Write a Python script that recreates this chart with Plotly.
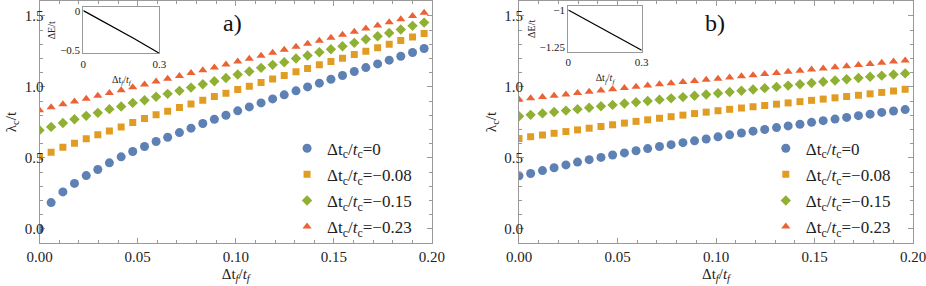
import plotly.graph_objects as go

# ---------------- data ----------------
x_vals = [0, 0.0059, 0.0119, 0.0178, 0.0238, 0.0297, 0.0356, 0.0416, 0.0475, 0.0535,
          0.0594, 0.0653, 0.0713, 0.0772, 0.0832, 0.0891, 0.0950, 0.1010, 0.1069, 0.1129,
          0.1188, 0.1247, 0.1307, 0.1366, 0.1426, 0.1485, 0.1544, 0.1604, 0.1663, 0.1723,
          0.1782, 0.1841, 0.1901, 0.1960]

labels = ["Δt<sub>c</sub>/<i>t</i><sub>c</sub>=0",
          "Δt<sub>c</sub>/<i>t</i><sub>c</sub>=−0.08",
          "Δt<sub>c</sub>/<i>t</i><sub>c</sub>=−0.15",
          "Δt<sub>c</sub>/<i>t</i><sub>c</sub>=−0.23"]

a_s0 = [0.0, 0.185, 0.26, 0.32, 0.375, 0.418, 0.465, 0.507, 0.545, 0.58,
        0.615, 0.645, 0.678, 0.709, 0.742, 0.772, 0.80, 0.831, 0.859, 0.887,
        0.915, 0.944, 0.972, 1.0, 1.026, 1.054, 1.08, 1.108, 1.136, 1.162,
        1.188, 1.216, 1.242, 1.27]
a_s1 = [0.51, 0.54, 0.575, 0.603, 0.634, 0.662, 0.69, 0.718, 0.749, 0.777,
        0.803, 0.829, 0.854, 0.88, 0.906, 0.932, 0.955, 0.981, 1.005, 1.03,
        1.056, 1.08, 1.106, 1.129, 1.155, 1.178, 1.202, 1.228, 1.251, 1.275,
        1.3, 1.326, 1.352, 1.376]
a_s2 = [0.695, 0.718, 0.746, 0.772, 0.796, 0.817, 0.843, 0.862, 0.887, 0.906,
        0.93, 0.951, 0.972, 0.995, 1.019, 1.04, 1.063, 1.087, 1.108, 1.134,
        1.155, 1.174, 1.2, 1.221, 1.244, 1.265, 1.286, 1.31, 1.336, 1.357,
        1.38, 1.404, 1.43, 1.453]
a_s3 = [0.836, 0.857, 0.877, 0.897, 0.917, 0.937, 0.957, 0.977, 0.997, 1.017,
        1.037, 1.057, 1.077, 1.097, 1.117, 1.137, 1.157, 1.178, 1.199, 1.22,
        1.241, 1.262, 1.283, 1.304, 1.325, 1.346, 1.367, 1.389, 1.411, 1.433,
        1.455, 1.477, 1.5, 1.523]

b_s0 = [0.373, 0.39, 0.41, 0.43, 0.45, 0.47, 0.487, 0.503, 0.52, 0.535,
        0.55, 0.565, 0.58, 0.593, 0.607, 0.62, 0.633, 0.648, 0.662, 0.675,
        0.688, 0.70, 0.713, 0.725, 0.737, 0.75, 0.762, 0.773, 0.785, 0.797,
        0.808, 0.82, 0.83, 0.84]
b_s1 = [0.636, 0.649, 0.661, 0.673, 0.685, 0.697, 0.709, 0.721, 0.733, 0.745,
        0.757, 0.768, 0.779, 0.790, 0.801, 0.812, 0.822, 0.832, 0.842, 0.851,
        0.860, 0.869, 0.878, 0.887, 0.896, 0.905, 0.914, 0.923, 0.932, 0.941,
        0.951, 0.961, 0.971, 0.983]
b_s2 = [0.793, 0.803, 0.813, 0.823, 0.833, 0.843, 0.853, 0.863, 0.873, 0.883,
        0.892, 0.901, 0.910, 0.919, 0.928, 0.937, 0.946, 0.955, 0.964, 0.973,
        0.982, 0.991, 1.000, 1.009, 1.018, 1.027, 1.036, 1.045, 1.054, 1.063,
        1.071, 1.079, 1.087, 1.095]
b_s3 = [0.911, 0.920, 0.929, 0.938, 0.947, 0.956, 0.965, 0.974, 0.983, 0.992,
        1.001, 1.010, 1.018, 1.026, 1.034, 1.042, 1.050, 1.058, 1.066, 1.074,
        1.082, 1.090, 1.098, 1.106, 1.114, 1.122, 1.130, 1.138, 1.146, 1.154,
        1.162, 1.170, 1.178, 1.186]

inset_x = [0, 0.1, 0.2, 0.3]
inset_a_y = [0, -0.172, -0.35, -0.535]
inset_b_y = [-1.0, -1.09, -1.18, -1.27]

# ---------------- style ----------------
colors = ["#5E81B5", "#E19C24", "#8FB032", "#EB6235"]
symbols = ["circle", "square", "diamond", "triangle-up"]
sizes = [9, 7, 8, 8]
FONT = "Liberation Serif, Times New Roman, DejaVu Serif, serif"
FRAME = "#999999"
TXT = "#222222"

fig = go.Figure()

series_a = [a_s0, a_s1, a_s2, a_s3]
series_b = [b_s0, b_s1, b_s2, b_s3]
for i in range(4):
    fig.add_trace(go.Scatter(x=x_vals, y=series_a[i], mode="markers", name=labels[i],
                             marker=dict(color=colors[i], symbol=symbols[i], size=sizes[i]),
                             xaxis="x", yaxis="y", legend="legend", legendgroup="a%d" % i))
for i in range(4):
    fig.add_trace(go.Scatter(x=x_vals, y=series_b[i], mode="markers", name=labels[i],
                             marker=dict(color=colors[i], symbol=symbols[i], size=sizes[i]),
                             xaxis="x2", yaxis="y2", legend="legend2", legendgroup="b%d" % i))

fig.add_trace(go.Scatter(x=inset_x, y=inset_a_y, mode="lines", line=dict(color="black", width=1.3),
                         xaxis="x3", yaxis="y3", showlegend=False))
fig.add_trace(go.Scatter(x=inset_x, y=inset_b_y, mode="lines", line=dict(color="black", width=1.3),
                         xaxis="x4", yaxis="y4", showlegend=False))

def main_x(dom, anchor):
    return dict(domain=dom, anchor=anchor, range=[0, 0.2], tickvals=[0, 0.05, 0.1, 0.15, 0.2],
                tickformat=".2f", ticks="inside", ticklen=5, tickcolor=FRAME, showline=True,
                linecolor=FRAME, linewidth=1, mirror="allticks", showgrid=False, zeroline=False,
                automargin=False, ticklabeloverflow="allow",
                minor=dict(dtick=0.01, ticks="inside", ticklen=3, tickcolor=FRAME, showgrid=False),
                tickfont=dict(family=FONT, size=15, color=TXT),
                title=dict(text="Δt<sub><i>f</i></sub>/<i>t</i><sub><i>f</i></sub>",
                           font=dict(family=FONT, size=15, color=TXT), standoff=4))

def main_y(dom, anchor):
    return dict(domain=dom, anchor=anchor, range=[-0.1, 1.605], tickvals=[0, 0.5, 1.0, 1.5],
                tickformat=".1f", ticks="inside", ticklen=5, tickcolor=FRAME, showline=True,
                linecolor=FRAME, linewidth=1, mirror="allticks", showgrid=False, zeroline=False,
                automargin=False,
                minor=dict(dtick=0.1, ticks="inside", ticklen=3, tickcolor=FRAME, showgrid=False),
                tickfont=dict(family=FONT, size=15, color=TXT),
                title=dict(text="λ<sub>c</sub>/t", font=dict(family=FONT, size=15, color=TXT),
                           standoff=4))

def inset_x_ax(dom, anchor):
    return dict(domain=dom, anchor=anchor, range=[0, 0.3], tickvals=[0, 0.3], ticktext=["0", "0.3"],
                ticks="", showline=True, linecolor=FRAME, linewidth=1, mirror=True,
                showgrid=False, zeroline=False, automargin=False, ticklabeloverflow="allow",
                tickfont=dict(family=FONT, size=11, color=TXT),
                title=dict(text="Δt<sub><i>f</i></sub>/<i>t</i><sub><i>f</i></sub>",
                           font=dict(family=FONT, size=10, color=TXT), standoff=7))

def inset_y_ax(dom, anchor, rng, tv, tt):
    return dict(domain=dom, anchor=anchor, range=rng, tickvals=tv, ticktext=tt, ticks="",
                showline=True, linecolor=FRAME, linewidth=1, mirror=True, showgrid=False,
                zeroline=False, automargin=False, tickfont=dict(family=FONT, size=11, color=TXT),
                title=dict(text="ΔE/t", font=dict(family=FONT, size=10, color=TXT), standoff=2))

legend_common = dict(font=dict(family=FONT, size=17, color=TXT), bgcolor="rgba(0,0,0,0)",
                     xanchor="left", yanchor="top", itemsizing="trace", tracegroupgap=1,
                     traceorder="grouped")

fig.update_layout(
    template="none",
    width=926, height=286, autosize=False,
    margin=dict(l=0, r=0, t=0, b=0, pad=0),
    font=dict(family=FONT, color=TXT),
    paper_bgcolor="white", plot_bgcolor="white",
    xaxis=main_x([0.0427, 0.4665], "y"),
    yaxis=main_y([0.1503, 0.9965], "x"),
    xaxis2=main_x([0.5605, 0.986], "y2"),
    yaxis2=main_y([0.1503, 0.9965], "x2"),
    xaxis3=inset_x_ax([0.090, 0.172], "y3"),
    yaxis3=inset_y_ax([0.8136, 0.9745], "x3", [-0.535, 0.042], [0, -0.5], ["0", "−0.5"]),
    xaxis4=inset_x_ax([0.6137, 0.693], "y4"),
    yaxis4=inset_y_ax([0.8192, 0.979], "x4", [-1.28, -0.973], [-1.0, -1.25], ["−1", "−1.25"]),
    legend=dict(x=0.310, y=0.543, **legend_common),
    legend2=dict(x=0.827, y=0.543, **legend_common),
    annotations=[
        dict(text="a)", x=0.2516, y=0.92, xref="paper", yref="paper", showarrow=False,
             xanchor="center", yanchor="middle",
             font=dict(family=FONT, size=24, color="#111")),
        dict(text="b)", x=0.772, y=0.92, xref="paper", yref="paper", showarrow=False,
             xanchor="center", yanchor="middle",
             font=dict(family=FONT, size=24, color="#111")),
    ],
)

# pull the y tick labels a little closer to the frame, as in the reference
for ax in ("yaxis", "yaxis2"):
    try:
        fig.layout[ax].ticklabelstandoff = -8
    except Exception:
        pass

fig.write_html("out.html", config={"displayModeBar": False},
               post_script="document.body.style.margin='0';document.body.style.padding='0';")
